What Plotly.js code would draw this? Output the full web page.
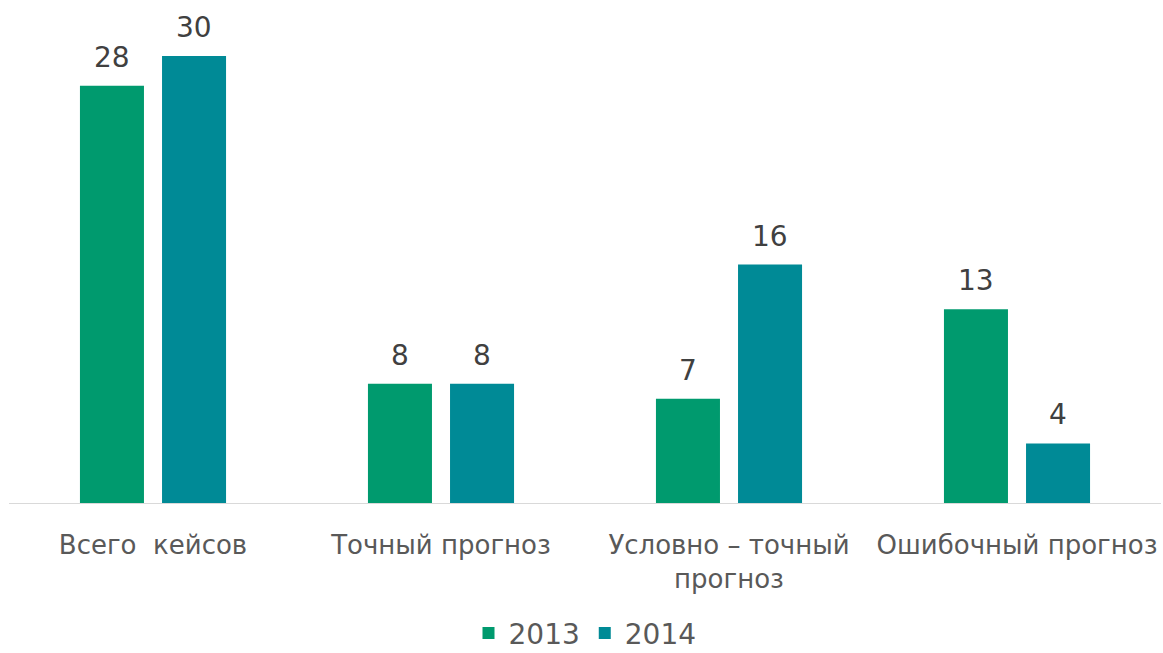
<!DOCTYPE html>
<html>
<head>
<meta charset="utf-8">
<script src="https://cdn.plot.ly/plotly-3.0.1.min.js"></script>
<style>
  html, body { margin: 0; padding: 0; background: #fff; }
  #chart { width: 1163px; height: 653px; }
</style>
</head>
<body>
<div id="chart"></div>
<script>
const categories = ["Всего  кейсов", "Точный прогноз", "Условно – точный<br>прогноз", "Ошибочный прогноз"];
const values2013 = [28, 8, 7, 13];
const values2014 = [30, 8, 16, 4];

const colors = { "2013": "#009a6e", "2014": "#008a96" };
const fontFamily = "DejaVu Sans, Liberation Sans, sans-serif";

const trace2013 = {
  x: categories,
  y: values2013,
  name: "2013",
  type: "bar",
  marker: { color: colors["2013"] },
  hoverinfo: "none",
};

const trace2014 = {
  x: categories,
  y: values2014,
  name: "2014",
  type: "bar",
  marker: { color: colors["2014"] },
  hoverinfo: "none",
};

// value labels above each bar
const labelAnnotations = [];
[values2013, values2014].forEach((vals, i) => {
  vals.forEach((v, j) => {
    labelAnnotations.push({
      x: categories[j],
      y: v,
      text: String(v),
      showarrow: false,
      xshift: i === 0 ? -41 : 41,
      yanchor: "bottom",
      yshift: 10,
      font: { family: fontFamily, size: 28, color: "#404040" },
    });
  });
});

const layout = {
  width: 1163,
  height: 653,
  margin: { l: 9, r: 2, t: 0, b: 150 },
  paper_bgcolor: "#fff",
  plot_bgcolor: "#fff",
  barmode: "group",
  bargap: 0.43,
  bargroupgap: 0.22,
  font: { family: fontFamily, color: "#595959" },
  xaxis: {
    showline: true,
    linecolor: "#d9d9d9",
    linewidth: 1,
    ticks: "",
    ticklabelstandoff: 19,
    tickfont: { size: 26, color: "#595959" },
  },
  yaxis: {
    range: [0, 33.76],
    showgrid: false,
    zeroline: false,
    showticklabels: false,
  },
  annotations: labelAnnotations,
  showlegend: true,
  legend: {
    orientation: "h",
    x: 0.5,
    xanchor: "center",
    yref: "container",
    y: 0.03,
    yanchor: "middle",
    font: { size: 28, color: "#595959" },
  },
};

Plotly.newPlot("chart", [trace2013, trace2014], layout, { displayModeBar: false });
</script>
</body>
</html>
